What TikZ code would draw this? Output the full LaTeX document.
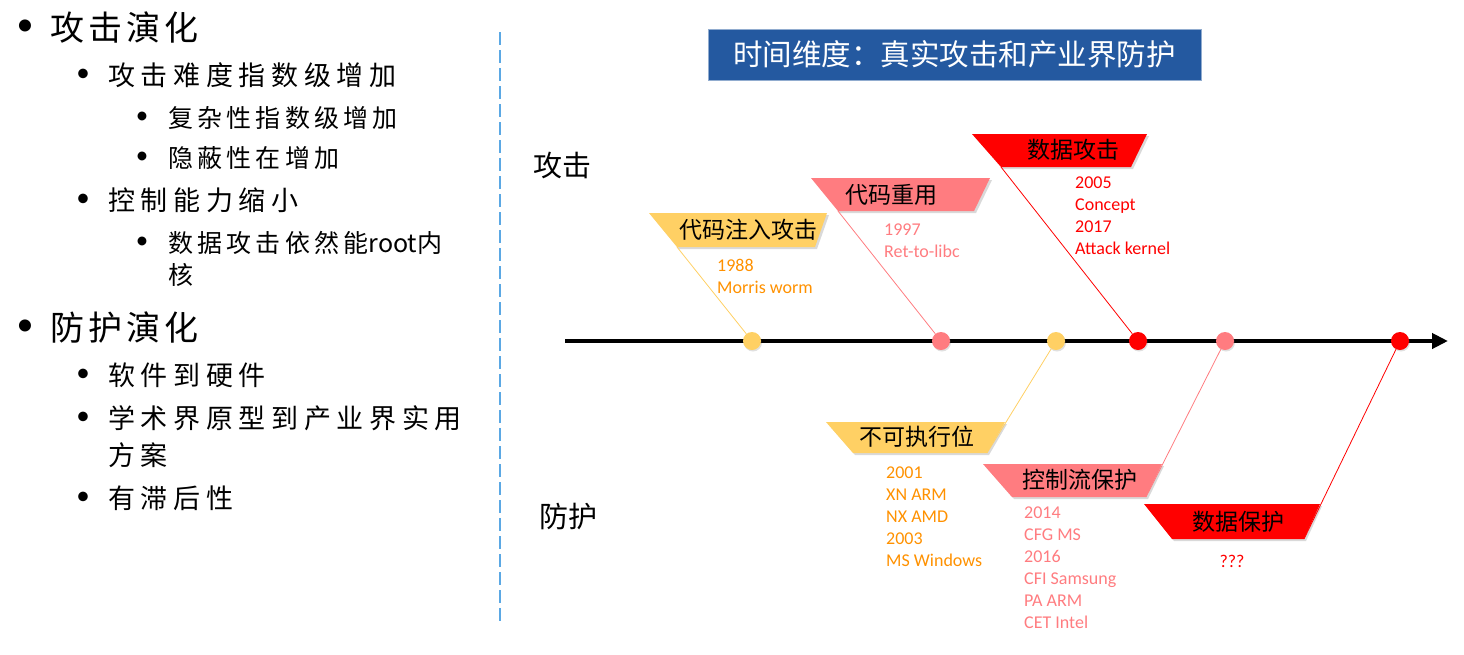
\documentclass[tikz,border=0pt]{standalone}
\usepackage{fontspec}
\setmainfont{Carlito}
\newfontfamily\cjk{Noto Sans CJK SC}
\usepackage{tikz}
\usetikzlibrary{arrows.meta,shadows}
\definecolor{goldbanner}{RGB}{255,208,100}
\definecolor{salmonbanner}{RGB}{255,124,128}
\definecolor{hotred}{RGB}{255,0,0}
\definecolor{ambertext}{RGB}{255,145,0}
\definecolor{titleblue}{RGB}{36,89,160}
\definecolor{dashblue}{RGB}{91,168,228}

\begin{document}
\begin{tikzpicture}[
    x=1pt, y=-1pt,
    lvla/.style={anchor=west, inner sep=0, font=\cjk\fontsize{34}{40}\addfontfeature{LetterSpace=12}},
    lvlb/.style={anchor=west, inner sep=0, font=\cjk\fontsize{27}{32}\addfontfeature{LetterSpace=21}},
    lvlc/.style={anchor=west, inner sep=0, font=\cjk\fontsize{25}{30}\addfontfeature{LetterSpace=17}},
    bulletmark/.style={inner sep=0, font=\fontsize{#1}{#1}\selectfont},
    titlebox/.style={draw=titleblue!50!white, line width=0.8pt, fill=titleblue, text=white,
        minimum width=493, minimum height=51, inner sep=0, font=\cjk\fontsize{29.5}{34}\selectfont},
    sidelabel/.style={inner sep=0, font=\cjk\fontsize{29}{34}\selectfont},
    bantext/.style={inner sep=0, font=\cjk\fontsize{23}{28}\selectfont},
    banshadow/.style={drop shadow={shadow xshift=2pt, shadow yshift=-2pt, opacity=0.25, fill=black!60}},
    yeartext/.style={anchor=north west, inner sep=0, align=left, font=\fontsize{18}{22}\selectfont},
    dot/.style={circle, minimum size=18, inner sep=0,
        drop shadow={shadow xshift=1pt, shadow yshift=-1.5pt, opacity=0.2, fill=black!60}},
    conn/.style={line width=0.8pt},
    >=Stealth
]
\useasboundingbox (0,0) rectangle (1464,654);

% bullet list on the left
\foreach \bx/\tx/\ty/\st/\bs/\txt [count=\i] in {
    25/50/28/lvla/34/攻击演化,
    83/108/75/lvlb/27/攻击难度指数级增加,
    142/168/118/lvlc/25/复杂性指数级增加,
    142/168/158/lvlc/25/隐蔽性在增加,
    83/108/200/lvlb/27/控制能力缩小,
    142/168/243/lvlc/25/数据攻击依然能{\addfontfeature{LetterSpace=0}root}内,
    25/50/328/lvla/34/防护演化,
    83/108/375/lvlb/27/软件到硬件,
    83/108/418/lvlb/27/学术界原型到产业界实用,
    83/108/498/lvlb/27/有滞后性}{
    \node[bulletmark=\bs] (bul\i) at (\bx,\ty) {•};
    \node[\st] (item\i) at (\tx,\ty) {\txt};
}
\node[lvlc] (item6b) at (168,275) {核};
\node[lvlb] (item9b) at (108,455) {方案};

% divider
\draw[dashblue, line width=1.5pt, dash pattern=on 13pt off 5pt] (500,32) -- (500,625);

\node[titlebox] (title) at (954.5,54.5) {时间维度：真实攻击和产业界防护};
\node[sidelabel] (atk) at (562,165) {攻击};
\node[sidelabel] (def) at (568,517) {防护};

% timeline
\coordinate (tl-start) at (565,341);
\coordinate (tl-end) at (1448,341);
\draw[line width=4pt, -{Triangle[length=16pt,width=15pt]}] (tl-start) -- (tl-end);

\node[dot, fill=goldbanner] (d1) at (752,341) {};
\node[dot, fill=salmonbanner] (d2) at (941,341) {};
\node[dot, fill=goldbanner] (d3) at (1056,341) {};
\node[dot, fill=hotred] (d4) at (1138,341) {};
\node[dot, fill=salmonbanner] (d5) at (1225,341) {};
\node[dot, fill=hotred] (d6) at (1400,341) {};

% attacks
\fill[goldbanner, banshadow] (649,213) -- (827,213) -- (815,247) -- (677,247) -- cycle;
\coordinate (inj-foot) at (677,247);
\node[bantext] (inj) at (748,230) {代码注入攻击};
\node[yeartext, text=ambertext] (inj-years) at (717,259) {1988\\Morris worm};
\draw[conn, goldbanner] (inj-foot) -- (d1);

\fill[salmonbanner, banshadow] (811,178) -- (990,178) -- (974,211) -- (838,211) -- cycle;
\coordinate (reuse-foot) at (838,211);
\node[bantext] (reuse) at (891,195) {代码重用};
\node[yeartext, text=salmonbanner] (reuse-years) at (884,224) {1997\\Ret-to-libc};
\draw[conn, salmonbanner] (reuse-foot) -- (d2);

\fill[hotred, banshadow] (972,134) -- (1147,134) -- (1131,167) -- (1001,167) -- cycle;
\coordinate (datk-foot) at (1001,167);
\node[bantext] (datk) at (1073,150) {数据攻击};
\node[yeartext, text=hotred] (datk-years) at (1075,177) {2005\\Concept\\2017\\Attack kernel};
\draw[conn, hotred] (datk-foot) -- (d4);

% defences
\fill[goldbanner, banshadow] (826,422) -- (1005,422) -- (987,453) -- (853,453) -- cycle;
\coordinate (nx-foot) at (987,453);
\node[bantext] (nx) at (917,437) {不可执行位};
\node[yeartext, text=ambertext] (nx-years) at (886,467) {2001\\XN ARM\\NX AMD\\2003\\MS Windows};
\draw[conn, goldbanner] (nx-foot) -- (d3);

\fill[salmonbanner, banshadow] (983,464) -- (1162,464) -- (1146,497) -- (1012,497) -- cycle;
\coordinate (cfi-foot) at (1146,497);
\node[bantext] (cfi) at (1080,480) {控制流保护};
\node[yeartext, text=salmonbanner] (cfi-years) at (1024,507) {2014\\CFG MS\\2016\\CFI Samsung\\PA ARM\\CET Intel};
\draw[conn, salmonbanner] (cfi-foot) -- (d5);

\fill[hotred, banshadow] (1144,504) -- (1320,504) -- (1304,539) -- (1172,539) -- cycle;
\coordinate (dprot-foot) at (1304,539);
\node[bantext] (dprot) at (1238,522) {数据保护};
\node[inner sep=0, text=hotred, font=\fontsize{18}{22}\selectfont] (dprot-years) at (1232,561) {???};
\draw[conn, hotred] (dprot-foot) -- (d6);

\end{tikzpicture}
\end{document}
